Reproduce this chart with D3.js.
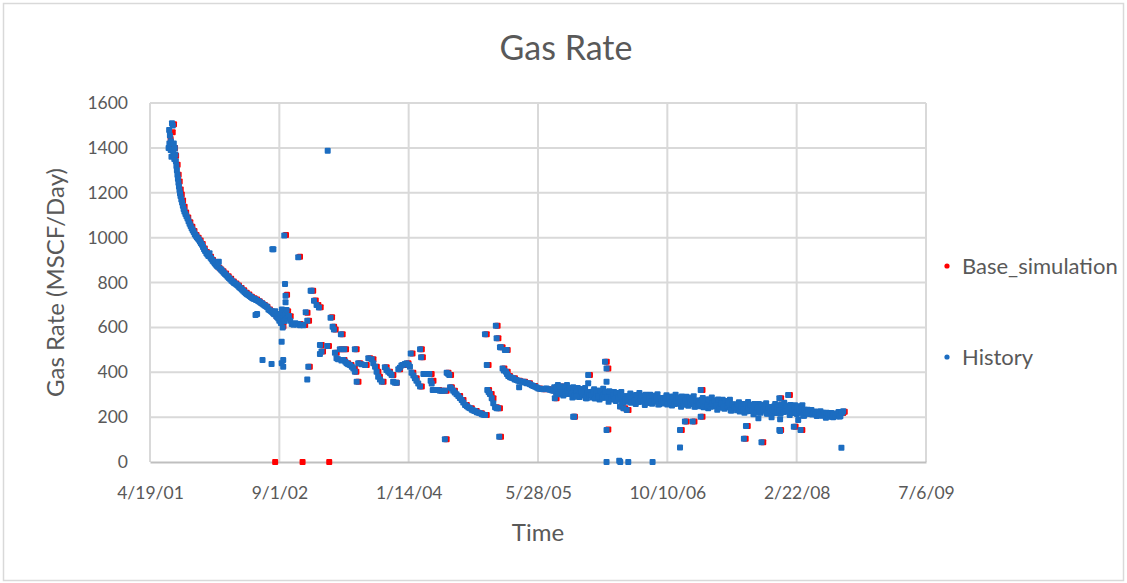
<!DOCTYPE html>
<html>
<head>
<meta charset="utf-8">
<script src="https://cdn.jsdelivr.net/npm/d3@7"></script>
<style>
  html, body { margin: 0; padding: 0; background: #ffffff; }
  svg { display: block; }
  text { font-family: "Lato", "Open Sans", sans-serif; fill: #595959; }
</style>
</head>
<body>
<svg id="chart" width="1127" height="583"></svg>
<script>
// Gas rate history vs. base simulation. Dates are spreadsheet serial day numbers.
const chartTitle = "Gas Rate";
const xAxisTitle = "Time";
const yAxisTitle = "Gas Rate (MSCF/Day)";
const seriesNames = ["Base_simulation", "History"];
const xTickSerials = [37000, 37500, 38000, 38500, 39000, 39500, 40000];
const yTicks = [0, 200, 400, 600, 800, 1000, 1200, 1400, 1600];

// Measured gas rate, [serial date, MSCF/day]
const history = [
  [37072,1400],[37074,1480],[37075,1420],[37077,1455],[37080,1390],[37081,1430],[37083,1360],[37085,1510],
  [37088,1500],[37090,1380],[37092,1420],[37094,1350],[37096,1400],[37098,1370],[37100,1340],[37102,1320],
  [37104,1300],[37106,1280],[37108,1262],[37110,1245],[37112,1228],[37114,1212],[37116,1198],[37118,1185],
  [37121,1170],[37124,1157],[37127,1142],[37130,1128],[37133,1116],[37137,1105],[37141,1095],[37145,1085],
  [37149,1073],[37153,1062],[37157,1052],[37161,1042],[37165,1033],[37169,1025],[37173,1015],[37177,1008],
  [37181,1002],[37185,996],[37189,990],[37193,983],[37197,975],[37201,968],[37205,958],[37209,948],
  [37213,940],[37218,930],[37222,925],[37226,918],[37230,930],[37234,910],[37238,905],[37242,897],
  [37246,892],[37250,886],[37254,880],[37258,875],[37262,870],[37266,893],[37270,862],[37275,857],
  [37280,850],[37285,843],[37290,838],[37295,832],[37300,826],[37305,820],[37310,815],[37315,808],
  [37320,803],[37325,798],[37330,794],[37335,790],[37340,785],[37345,779],[37350,774],[37355,769],
  [37360,763],[37365,758],[37370,752],[37375,748],[37380,744],[37385,740],[37390,735],[37395,731],
  [37400,728],[37405,726],[37410,722],[37414,660],[37418,718],[37423,714],[37428,710],[37433,706],
  [37438,702],[37443,698],[37448,694],[37453,690],[37458,680],[37463,676],[37468,672],[37472,668],
  [37476,663],[37480,658],[37484,672],[37488,650],[37492,645],[37496,640],[37500,630],[37503,660],
  [37506,620],[37510,680],[37513,600],[37516,640],[37520,628],[37524,655],[37528,677],[37532,640],
  [37537,651],[37542,630],[37548,615],[37555,612],[37562,618],[37568,613],[37573,615],[37580,610],
  [37587,612],[37593,610],[37602,667],[37608,630],
  [37435,455],[37470,437],[37408,655],[37473,948],[37477,948],[37519,1009],[37573,912],[37522,793],
  [37524,741],[37524,712],[37509,536],[37515,455],[37509,440],[37515,425],[37612,425],[37608,368],
  [37621,763],[37625,763],[37634,719],[37644,700],[37653,689],[37687,1387],
  [37657,521],[37663,492],[37657,481],[37685,517],[37698,643],[37706,603],[37711,591],[37715,487],
  [37721,462],[37727,458],[37734,502],[37738,569],[37740,452],[37747,455],[37751,502],[37755,447],
  [37760,440],[37766,436],[37773,432],[37780,424],[37786,417],[37792,402],[37792,502],[37799,358],
  [37805,440],[37818,436],[37831,432],[37844,462],[37857,458],[37863,440],[37870,425],[37876,402],
  [37882,380],[37889,368],[37896,358],[37908,422],[37914,410],[37921,402],[37928,395],[37934,388],
  [37940,358],[37947,353],[37954,353],[37960,413],[37966,420],[37972,430],[37977,432],[37985,437],
  [37992,440],[38000,432],[38005,425],[38008,484],[38011,398],[38018,385],[38024,373],[38030,362],
  [38037,350],[38044,336],[38044,502],[38048,467],[38057,392],[38064,392],[38070,392],[38080,392],
  [38085,362],[38089,350],[38093,321],[38100,321],[38111,321],[38121,318],[38130,318],[38140,318],
  [38140,101],[38147,398],[38152,393],[38157,388],[38160,333],[38165,328],[38172,318],[38178,310],
  [38185,302],[38192,294],[38198,285],[38205,276],[38211,265],[38218,254],[38225,248],[38231,243],
  [38237,239],[38244,233],[38250,230],[38256,227],[38263,222],[38270,219],[38276,217],[38283,213],
  [38289,211],[38295,209],[38295,569],[38302,432],[38304,321],[38309,312],[38314,303],[38321,284],
  [38327,262],[38334,244],[38340,239],[38346,239],[38350,113],[38337,607],[38340,551],[38353,511],
  [38356,511],[38372,499],[38379,499],[38363,417],[38368,408],[38376,402],[38380,392],[38385,383],
  [38392,378],[38398,376],[38404,373],[38410,368],[38417,365],[38423,362],[38427,333],[38430,360],
  [38437,358],[38443,358],[38450,354],[38456,351],[38462,351],[38469,346],[38476,342],[38482,339],
  [38489,335],[38495,332],[38501,328],[38508,326],[38514,325],[38520,324],[38527,326],[38533,328],
  [38540,324],[38546,322],[38553,320],[38559,318],
  [38563,333],[38570,308],[38577,343],[38584,314],[38591,335],[38598,296],[38605,320],[38612,343],
  [38619,303],[38626,322],[38633,287],[38640,325],[38647,307],[38654,330],[38661,290],[38668,317],
  [38675,297],[38682,330],[38689,284],[38696,308],[38703,312],[38710,287],[38717,324],[38724,295],
  [38731,317],[38738,278],[38745,303],[38752,327],[38759,286],[38766,305],[38773,269],[38780,307],
  [38787,290],[38794,312],[38801,272],[38808,299],[38815,279],[38822,312],[38829,266],[38836,290],
  [38843,293],[38850,268],[38857,305],[38864,276],[38871,298],[38878,259],[38885,284],[38892,308],
  [38899,268],[38906,288],[38913,254],[38920,292],[38927,276],[38934,300],[38941,260],[38948,288],
  [38955,269],[38962,302],[38969,257],[38976,281],[38983,285],[38990,261],[38997,297],[39004,269],
  [39011,290],[39018,252],[39025,276],[39032,300],[39039,260],[39046,280],[39053,246],[39060,284],
  [39067,268],[39074,291],[39081,251],[39088,279],[39095,259],[39102,293],[39109,247],[39116,271],
  [39123,274],[39130,249],[39137,285],[39144,257],[39151,278],[39158,239],[39165,264],[39172,287],
  [39179,248],[39186,267],[39193,233],[39200,271],[39207,254],[39214,277],[39221,237],[39228,264],
  [39235,244],[39242,277],[39249,230],[39256,254],[39263,256],[39270,231],[39277,266],[39284,237],
  [39291,258],[39298,219],[39305,243],[39312,267],[39319,227],[39326,247],[39333,213],[39340,251],
  [39347,235],[39354,259],[39361,220],[39368,247],[39375,228],[39382,262],[39389,216],[39396,241],
  [39403,245],[39410,221],[39417,259],[39424,231],[39431,253],[39438,216],[39445,241],[39452,264],
  [39459,224],[39466,244],[39473,209],[39480,247],[39487,230],[39494,253],[39501,214],[39508,240],
  [39515,220],[39522,253],[39529,206],[39536,230],[39543,233],[39550,214],[39557,232],[39564,216],
  [39571,225],[39578,205],[39585,216],[39592,226],[39599,206],[39606,215],[39613,197],[39620,215],
  [39627,207],[39634,218],[39641,199],[39648,213],[39655,204],[39662,223],[39669,204],[39676,220],
  [39680,226],
  [38566,320],[38573,334],[38580,302],[38587,326],[38594,310],[38601,336],[38608,303],[38615,317],
  [38622,330],[38629,307],[38636,333],[38643,295],[38650,314],[38657,298],[38664,325],[38671,305],
  [38678,317],[38685,284],[38692,311],[38699,298],[38706,299],[38713,314],[38720,283],[38727,307],
  [38734,292],[38741,318],[38748,286],[38755,300],[38762,313],[38769,289],[38776,315],[38783,278],
  [38790,296],[38797,280],[38804,307],[38811,287],[38818,299],[38825,266],[38832,293],[38839,280],
  [38846,280],[38853,295],[38860,264],[38867,288],[38874,273],[38881,299],[38888,267],[38895,282],
  [38902,295],[38909,273],[38916,300],[38923,263],[38930,283],[38937,268],[38944,295],[38951,276],
  [38958,289],[38965,256],[38972,284],[38979,271],[38986,272],[38993,288],[39000,256],[39007,281],
  [39014,265],[39021,292],[39028,259],[39035,274],[39042,287],[39049,265],[39056,292],[39063,255],
  [39070,274],[39077,259],[39084,286],[39091,267],[39098,279],[39105,246],[39112,273],[39119,260],
  [39126,261],[39133,276],[39140,244],[39147,268],[39154,253],[39161,279],[39168,246],[39175,261],
  [39182,274],[39189,252],[39196,278],[39203,242],[39210,261],[39217,245],[39224,272],[39231,252],
  [39238,263],[39245,230],[39252,257],[39259,243],[39266,243],[39273,257],[39280,225],[39287,249],
  [39294,233],[39301,259],[39308,226],[39315,241],[39322,254],[39329,232],[39336,259],[39343,222],
  [39350,242],[39357,227],[39364,255],[39371,235],[39378,248],[39385,215],[39392,243],[39399,231],
  [39406,232],[39413,248],[39420,218],[39427,243],[39434,229],[39441,256],[39448,223],[39455,238],
  [39462,251],[39469,228],[39476,254],[39483,218],[39490,237],[39497,221],[39504,248],[39511,228],
  [39518,239],[39525,206],[39532,233],[39539,219],[39546,219],[39553,227],[39560,212],[39567,221],
  [39574,213],[39581,223],[39588,208],[39595,214],[39602,219],[39609,208],[39616,219],[39623,202],
  [39630,211],[39637,203],[39644,216],[39651,207],[39658,215],[39665,203],[39672,219],
  [38565,284],[38585,336],[38636,202],[38640,202],[38649,291],[38669,313],[38694,388],[38694,351],
  [38759,447],[38765,417],[38765,358],[38765,143],[38765,0],[38814,6],[38818,0],[38849,0],
  [38943,0],[38817,247],[38830,239],[38843,232],[39049,143],[39049,65],[39068,180],[39098,180],
  [39129,321],[39129,202],[39296,104],[39304,160],[39352,195],[39364,88],[39403,199],[39433,284],
  [39433,143],[39436,190],[39467,299],[39436,138],[39489,157],[39506,187],[39515,143],[39673,64]
];

// Simulated gas rate, [serial date, MSCF/day]
const baseSimulation = [
  [37076,1440],[37080,1395],[37084,1470],[37089,1505],[37093,1400],[37097,1365],[37103,1325],[37107,1280],
  [37111,1250],[37115,1215],[37119,1192],[37124,1165],[37130,1138],[37136,1112],[37144,1090],[37152,1068],
  [37160,1048],[37168,1030],[37176,1012],[37184,1000],[37192,987],[37200,972],[37208,952],[37216,936],
  [37224,924],[37232,915],[37240,900],[37248,890],[37256,878],[37264,866],[37272,858],[37280,850],
  [37290,840],[37300,828],[37310,817],[37320,805],[37330,796],[37340,787],[37350,776],[37360,765],
  [37370,754],[37380,746],[37390,737],[37400,730],[37410,724],[37420,716],[37430,708],[37440,700],
  [37450,692],[37460,680],[37470,671],[37478,662],[37480,0],[37486,650],[37494,642],[37502,628],
  [37512,605],[37522,1012],[37526,745],[37530,672],[37540,650],[37551,615],[37576,915],[37578,615],
  [37586,0],[37596,611],[37605,665],[37611,630],[37614,425],[37627,763],[37637,720],[37647,700],
  [37656,690],[37660,521],[37665,492],[37689,0],[37688,517],[37700,645],[37708,603],[37714,590],
  [37718,487],[37737,502],[37741,569],[37748,455],[37754,502],[37762,440],[37775,432],[37788,417],
  [37795,502],[37794,402],[37802,358],[37808,440],[37834,432],[37847,462],[37860,458],[37873,425],
  [37879,402],[37885,380],[37899,358],[37911,422],[37924,402],[37937,388],[37950,353],[37963,413],
  [37980,432],[37995,440],[38011,484],[38014,398],[38027,373],[38047,502],[38047,336],[38051,467],
  [38060,392],[38085,392],[38092,362],[38099,321],[38114,321],[38124,318],[38143,318],[38143,101],
  [38150,398],[38160,388],[38163,333],[38175,318],[38195,294],[38208,276],[38221,254],[38240,239],
  [38259,227],[38279,217],[38298,209],[38298,569],[38340,607],[38343,551],[38359,511],[38379,499],
  [38305,432],[38307,321],[38317,303],[38324,284],[38337,244],[38349,239],[38353,113],[38366,417],
  [38379,402],[38388,383],[38407,373],[38426,362],[38446,358],[38465,351],[38485,339],[38504,328],
  [38523,324],[38543,324],[38562,318],[38568,284],[38588,336],
  [38600,318],[38614,325],[38628,305],[38639,202],[38642,312],[38656,300],[38670,313],[38684,305],
  [38697,388],[38698,300],[38712,300],[38726,308],[38740,298],[38754,296],[38762,447],[38768,417],
  [38768,145],[38782,292],[38796,286],[38810,282],[38820,247],[38824,290],[38833,239],[38838,278],
  [38846,232],[38852,282],[38866,276],[38880,284],[38894,280],[38908,272],[38922,282],[38936,276],
  [38950,280],[38964,272],[38978,278],[38992,270],[39006,278],[39020,268],[39034,274],[39048,268],
  [39052,143],[39062,272],[39071,180],[39076,266],[39090,270],[39101,180],[39104,264],[39118,262],
  [39132,321],[39132,202],[39132,268],[39146,258],[39160,260],[39174,254],[39188,262],[39202,252],
  [39216,256],[39230,248],[39244,252],[39258,242],[39272,238],[39286,244],[39299,104],[39300,234],
  [39307,160],[39314,240],[39328,236],[39342,240],[39356,232],[39367,88],[39370,240],[39384,234],
  [39398,238],[39412,232],[39426,240],[39436,284],[39436,143],[39440,236],[39454,240],[39468,232],
  [39470,299],[39482,238],[39492,157],[39496,230],[39510,228],[39518,143],[39524,222],[39538,220],
  [39552,218],[39566,214],[39580,210],[39594,212],[39608,206],[39622,208],[39636,205],[39650,210],
  [39664,212],[39676,218],[39682,224]
];

const colors = { sim: "#ff0000", hist: "#1c6dc1" };

// spreadsheet serial day -> JS Date (UTC)
const EPOCH = Date.UTC(1899, 11, 30);
const toDate = s => new Date(EPOCH + s * 86400000);

const svg = d3.select("#chart");
const W = 1127, H = 583;
const plot = { left: 150, right: 926, top: 103, bottom: 462 };

// chart frame
svg.append("rect")
  .attr("x", 3.5).attr("y", 3.5).attr("width", W - 7).attr("height", H - 6)
  .attr("fill", "#ffffff").attr("stroke", "#d9d9d9").attr("stroke-width", 1.5);

const x = d3.scaleUtc()
  .domain([toDate(xTickSerials[0]), toDate(xTickSerials[xTickSerials.length - 1])])
  .range([plot.left, plot.right]);
const y = d3.scaleLinear()
  .domain([0, 1600])
  .range([plot.bottom, plot.top]);

const fmt = d3.utcFormat("%-m/%-d/%y");

// gridlines
const grid = svg.append("g");
grid.selectAll("line.h").data(yTicks.filter(v => v > 0)).join("line")
  .attr("x1", plot.left).attr("x2", plot.right)
  .attr("y1", d => y(d)).attr("y2", d => y(d))
  .attr("stroke", "#d9d9d9").attr("stroke-width", 2);
grid.selectAll("line.v").data(xTickSerials).join("line")
  .attr("x1", d => x(toDate(d))).attr("x2", d => x(toDate(d)))
  .attr("y1", plot.top).attr("y2", plot.bottom)
  .attr("stroke", "#d9d9d9").attr("stroke-width", 2);

// axes
const yAxis = svg.append("g")
  .attr("transform", `translate(${plot.left},0)`)
  .call(d3.axisLeft(y).tickValues(yTicks).tickFormat(d3.format("d")).tickSize(0).tickPadding(22));
yAxis.select(".domain").remove();
yAxis.selectAll("text").style("font-size", "17.5px").attr("fill", "#595959")
  .style("font-family", "Lato");

const xAxis = svg.append("g")
  .attr("transform", `translate(0,${plot.bottom})`)
  .call(d3.axisBottom(x).tickValues(xTickSerials.map(toDate)).tickFormat(fmt).tickSize(0).tickPadding(25));
xAxis.select(".domain").attr("stroke", "#bfbfbf").attr("stroke-width", 2);
xAxis.selectAll("text").style("font-size", "17.5px").attr("fill", "#595959")
  .style("font-family", "Lato");

// series markers: simulation first, history drawn over it
const M = 6;
svg.append("g").selectAll("rect").data(baseSimulation).join("rect")
  .attr("x", d => x(toDate(d[0])) - M / 2 + 1)
  .attr("y", d => y(d[1]) - M / 2)
  .attr("width", M).attr("height", M).attr("rx", 1)
  .attr("fill", colors.sim);
svg.append("g").selectAll("rect").data(history).join("rect")
  .attr("x", d => x(toDate(d[0])) - M / 2)
  .attr("y", d => y(d[1]) - M / 2)
  .attr("width", M).attr("height", M).attr("rx", 1)
  .attr("fill", colors.hist);

// titles
svg.append("text").attr("x", 566).attr("y", 60).attr("text-anchor", "middle")
  .style("font-size", "34px").text(chartTitle);
svg.append("text").attr("x", (plot.left + plot.right) / 2).attr("y", 541)
  .attr("text-anchor", "middle").style("font-size", "24px").text(xAxisTitle);
svg.append("text")
  .attr("transform", `translate(64,${(plot.top + plot.bottom) / 2}) rotate(-90)`)
  .attr("text-anchor", "middle").style("font-size", "24px").text(yAxisTitle);

// legend
const legend = svg.append("g");
const legendItems = [
  { name: seriesNames[0], color: colors.sim, y: 266 },
  { name: seriesNames[1], color: colors.hist, y: 357 }
];
legend.selectAll("circle").data(legendItems).join("circle")
  .attr("cx", 947).attr("cy", d => d.y).attr("r", 2.6).attr("fill", d => d.color);
legend.selectAll("text").data(legendItems).join("text")
  .attr("x", 962).attr("y", d => d.y).attr("dy", "0.35em")
  .style("font-size", "22px").text(d => d.name);
</script>
</body>
</html>
